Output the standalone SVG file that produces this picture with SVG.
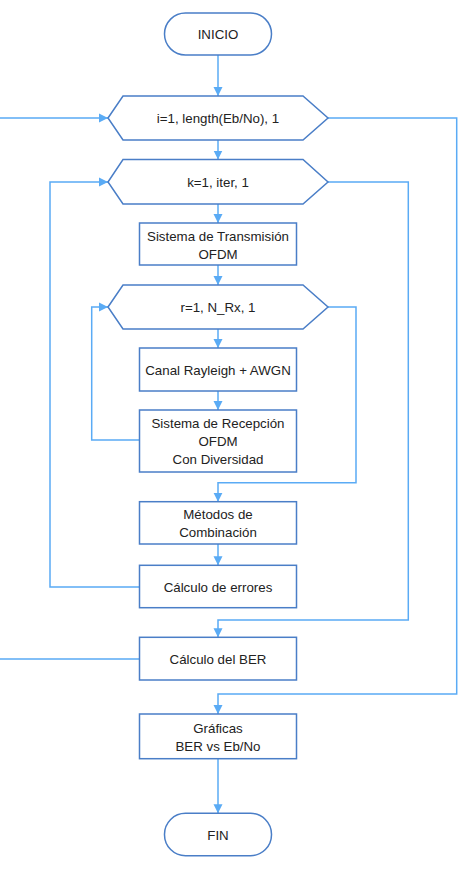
<svg xmlns="http://www.w3.org/2000/svg" width="459" height="872" viewBox="0 0 459 872">
<style>
.n{fill:#fff;stroke:#4a7ec7;stroke-width:1.5}
.c{fill:none;stroke:#5aabf5;stroke-width:1.5}
text{font-family:"Liberation Sans",Arial,sans-serif;font-size:13.3px;fill:#222;text-anchor:middle;dominant-baseline:central}
</style>
<defs>
<marker id="a" markerUnits="userSpaceOnUse" markerWidth="10" markerHeight="10" viewBox="0 0 10 10" refX="9" refY="5" orient="auto">
<path d="M0,0.5 L9,5 L0,9.5 Z" fill="#5aabf5"/>
</marker>
</defs>
<rect width="459" height="872" fill="#fff"/>
<g id="connectors">
<path class="c" d="M218,55 V96" marker-end="url(#a)"/>
<path class="c" d="M218,140 V159.5" marker-end="url(#a)"/>
<path class="c" d="M218,204 V223" marker-end="url(#a)"/>
<path class="c" d="M218,265 V285" marker-end="url(#a)"/>
<path class="c" d="M218,329 V348" marker-end="url(#a)"/>
<path class="c" d="M218,391 V410" marker-end="url(#a)"/>
<path class="c" d="M328,307 H356 V482.7 H218 V501.7" marker-end="url(#a)"/>
<path class="c" d="M218,544 V565.3" marker-end="url(#a)"/>
<path class="c" d="M328,182 H408.3 V620 H218 V637.3" marker-end="url(#a)"/>
<path class="c" d="M328,118 H456.7 V694 H218 V714" marker-end="url(#a)"/>
<path class="c" d="M218,758.7 V813.3" marker-end="url(#a)"/>
<path class="c" d="M139.5,440 H91.7 V307 H108" marker-end="url(#a)"/>
<path class="c" d="M139.5,587 H50 V182 H108" marker-end="url(#a)"/>
<path class="c" d="M139.5,659 H-5 V118 H108" marker-end="url(#a)"/>
</g>
<g id="inicio">
<rect class="n" x="164.5" y="13" width="107" height="42" rx="21"/>
<text x="218" y="34">INICIO</text>
</g>
<g id="loop-i">
<polygon class="n" points="108,118 123,96 303,96 328,118 303,140 123,140"/>
<text x="218" y="118">i=1, length(Eb/No), 1</text>
</g>
<g id="loop-k">
<polygon class="n" points="108,182 123,159.5 303,159.5 328,182 303,204 123,204"/>
<text x="218" y="182">k=1, iter, 1</text>
</g>
<g id="tx">
<rect class="n" x="139.5" y="223" width="157" height="42"/>
<text x="218" y="236">Sistema de Transmisión</text>
<text x="218" y="254">OFDM</text>
</g>
<g id="loop-r">
<polygon class="n" points="108,307 123,285 303,285 328,307 303,329 123,329"/>
<text x="218" y="307">r=1, N_Rx, 1</text>
</g>
<g id="canal">
<rect class="n" x="139.5" y="348" width="157" height="43"/>
<text x="218" y="370.5">Canal Rayleigh + AWGN</text>
</g>
<g id="rx">
<rect class="n" x="139.5" y="410" width="157" height="62"/>
<text x="218" y="423.3">Sistema de Recepción</text>
<text x="218" y="441">OFDM</text>
<text x="218" y="459.3">Con Diversidad</text>
</g>
<g id="metodos">
<rect class="n" x="139.5" y="501.7" width="157" height="42.3"/>
<text x="218" y="514.3">Métodos de</text>
<text x="218" y="532.7">Combinación</text>
</g>
<g id="errores">
<rect class="n" x="139.5" y="565.3" width="157" height="42.4"/>
<text x="218" y="587">Cálculo de errores</text>
</g>
<g id="ber">
<rect class="n" x="139.5" y="637.3" width="157" height="42.7"/>
<text x="218" y="659.5">Cálculo del BER</text>
</g>
<g id="graficas">
<rect class="n" x="139.5" y="714" width="157" height="44.7"/>
<text x="218" y="728.3">Gráficas</text>
<text x="218" y="746.7">BER vs Eb/No</text>
</g>
<g id="fin">
<rect class="n" x="164.5" y="813.3" width="107" height="42.4" rx="21"/>
<text x="218" y="835.5">FIN</text>
</g>
</svg>
